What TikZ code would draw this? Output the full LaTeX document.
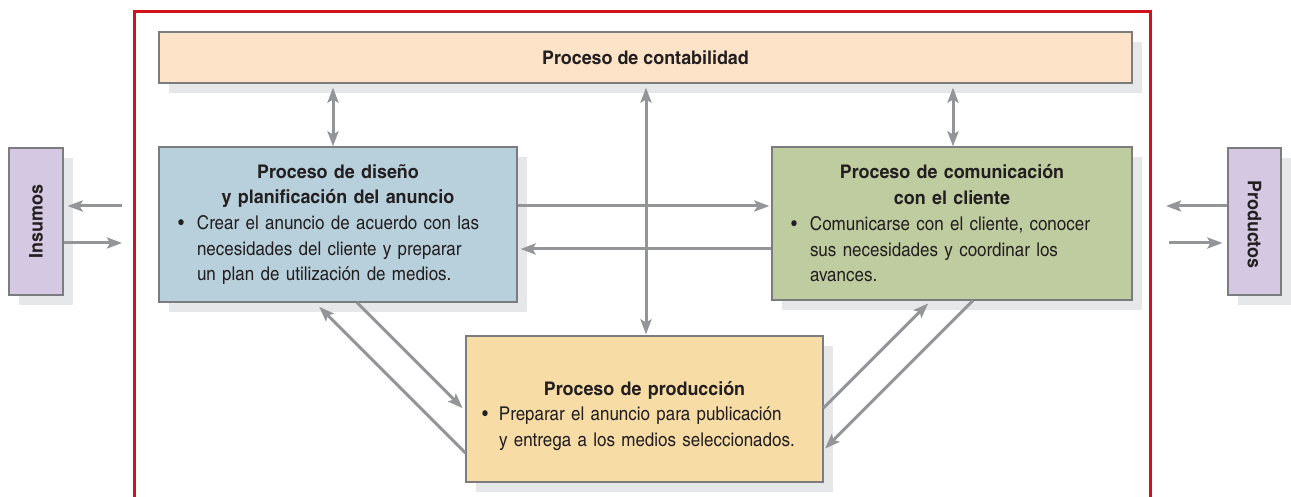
\documentclass[tikz,border=0pt]{standalone}
\usepackage{fontspec}
\setmainfont{texgyreheroscn}[Extension=.otf, UprightFont=*-regular, BoldFont=*-bold,
  UprightFeatures={FakeStretch=1.09}, BoldFeatures={FakeStretch=1.16}]
\usetikzlibrary{arrows.meta,shadows}
\definecolor{acctc}{HTML}{FDE4C8}
\definecolor{designc}{HTML}{B8D0DC}
\definecolor{commc}{HTML}{BFCC9F}
\definecolor{prodc}{HTML}{F7DCA6}
\definecolor{sidec}{HTML}{D5C8E2}
\definecolor{boxgray}{HTML}{7A7C80}
\definecolor{shadowgray}{HTML}{E6E7E8}
\definecolor{arrgray}{HTML}{939598}
\definecolor{framered}{HTML}{D0121B}
\definecolor{inkc}{HTML}{231F20}
\begin{document}
\begin{tikzpicture}[x=1pt,y=-1pt,
  box/.style={draw=boxgray, line width=1.2pt, rectangle, inner sep=0pt,
    drop shadow={shadow xshift=10pt, shadow yshift=-10pt, fill=shadowgray, opacity=1}},
  txt/.style={inner sep=0pt, align=left, text=inkc, font=\fontsize{19pt}{25.7pt}\selectfont},
  ttl/.style={font=\fontsize{18.8pt}{25.7pt}\selectfont\bfseries},
  sidetxt/.style={inner sep=0pt, text=inkc, font=\fontsize{18.8pt}{22pt}\selectfont\bfseries},
  arr/.style={draw=arrgray, line width=3pt, -{Stealth[length=15pt,width=11pt,inset=3pt]}},
  darr/.style={draw=arrgray, line width=3pt, {Stealth[length=15pt,width=11pt,inset=3pt]}-{Stealth[length=15pt,width=11pt,inset=3pt]}},
  frame/.style={draw=framered, line width=3pt}
]
\useasboundingbox (0,0) rectangle (1291,497);

% red frame
\coordinate (fr1) at (134,497);
\coordinate (fr2) at (134,12);
\coordinate (fr3) at (1150,12);
\coordinate (fr4) at (1150,497);
\draw[frame] (fr1) -- (fr2) -- (fr3) -- (fr4);

% boxes
\node[box, fill=acctc, minimum width=973pt, minimum height=51pt] (acct) at (645.5,57.5) {};
\node[box, fill=designc, minimum width=358pt, minimum height=155pt] (design) at (338,224.5) {};
\node[box, fill=commc, minimum width=360pt, minimum height=153pt] (comm) at (952,223.5) {};
\node[box, fill=prodc, minimum width=357pt, minimum height=146pt] (prod) at (644.5,409) {};
\node[box, fill=sidec, minimum width=54pt, minimum height=147pt] (insumos) at (36,221.5) {};
\node[box, fill=sidec, minimum width=53pt, minimum height=147pt] (productos) at (1254.5,221.5) {};

% texts
\node[txt, ttl] (accttext) at (acct.center) {Proceso de contabilidad};

\node[txt, text width=320pt] (designtext) at (design.center) {%
{\centering\fontsize{18.8pt}{25.7pt}\selectfont\bfseries Proceso de diseño\\ y planificación del anuncio\par}
\hangindent=19pt\hangafter=1\noindent\makebox[19pt][l]{\textbullet}Crear el anuncio de acuerdo con las\newline necesidades del cliente y preparar\newline un plan de utilización de medios.\par};

\node[txt, text width=322pt] (commtext) at (comm.center) {%
{\centering\fontsize{18.8pt}{25.7pt}\selectfont\bfseries Proceso de comunicación\\ con el cliente\par}
\hangindent=19pt\hangafter=1\noindent\makebox[19pt][l]{\textbullet}Comunicarse con el cliente, conocer\newline sus necesidades y coordinar los\newline avances.\par};

\node[txt, text width=325pt] (prodtext) at ([yshift=-7pt]prod.center) {%
{\centering\fontsize{18.8pt}{25.7pt}\selectfont\bfseries Proceso de producción\par}
\hangindent=17pt\hangafter=1\noindent\makebox[17pt][l]{\textbullet}Preparar el anuncio para publicación\newline y entrega a los medios seleccionados.\par};

\node[sidetxt, rotate=90] (insumostext) at (insumos.center) {Insumos};
\node[sidetxt, rotate=-90] (productostext) at ([yshift=-3pt]productos.center) {Productos};

% helper coordinates
\coordinate (xa) at (333,0);
\coordinate (xb) at (646,0);
\coordinate (xc) at (953,0);
\coordinate (y1) at (0,206);
\coordinate (y2) at (0,249);
\coordinate (inA) at (122,206);
\coordinate (inB) at (122,243);
\coordinate (prA) at (1166,206);
\coordinate (prB) at (1169,243);
\coordinate (dA) at (357,0);
\coordinate (yA) at (0,411);
\coordinate (dB) at (315,0);
\coordinate (yB) at (0,453);
\coordinate (dC) at (931,0);
\coordinate (yC) at (0,408);
\coordinate (dD) at (973,0);
\coordinate (yD) at (0,450);

% vertical connectors
\draw[darr, shorten >=4pt] (design.north -| xa) -- (acct.south -| xa);
\draw[darr, shorten <=4pt, shorten >=1pt] (acct.south -| xb) -- (prod.north -| xb);
\draw[darr, shorten >=4pt] (comm.north -| xc) -- (acct.south -| xc);

% horizontal connectors
\draw[arr, shorten >=2pt] (design.east |- y1) -- (comm.west |- y1);
\draw[arr, shorten >=3pt] (comm.west |- y2) -- (design.east |- y2);

% side connectors
\draw[arr, shorten >=4pt] (inA) -- (insumos.east |- inA);
\draw[arr] (insumos.east |- inB) -- (inB);
\draw[arr] (productos.west |- prA) -- (prA);
\draw[arr, shorten >=5pt] (prB) -- (productos.west |- prB);

% diagonal connectors
\draw[arr, shorten >=4pt] (design.south -| dA) -- (prod.west |- yA);
\draw[arr, shorten >=6pt] (prod.west |- yB) -- (design.south -| dB);
\draw[arr, shorten >=4pt] (prod.east |- yC) -- (comm.south -| dC);
\draw[arr, shorten >=2pt] (comm.south -| dD) -- (prod.east |- yD);
\end{tikzpicture}
\end{document}
